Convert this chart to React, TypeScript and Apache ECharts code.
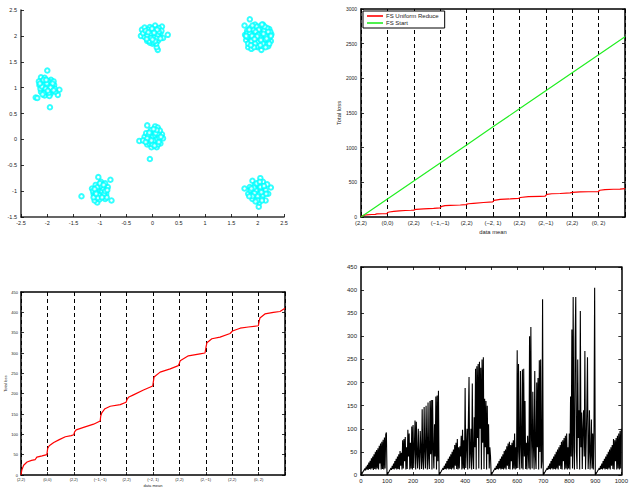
import React, { useEffect, useRef } from "react";
import * as echarts from "echarts";

// ---------- top-left scatter: six clusters ----------
const clusterA: number[][] = [[-2.0,1.33],[-2.22,0.81],[-2.19,0.8],[-1.95,0.62],[-1.77,0.96],[-1.8,0.86],[-2.12,1.2],[-2.05,1.19],[-1.93,1.15],[-2.15,1.05],[-2.1,0.95],[-2.08,1.1],[-2.03,1.02],[-1.98,0.98],[-1.95,1.08],[-1.9,1.0],[-2.0,0.9],[-2.05,0.85],[-1.92,0.92],[-1.87,1.05],[-2.12,0.92],[-2.0,1.05],[-1.97,1.12],[-2.07,0.98],[-1.85,0.92],[-2.02,0.95],[-1.94,0.88],[-2.1,1.12],[-1.88,1.12],[-2.13,0.98],[-2.04,1.08],[-1.99,1.0],[-1.86,0.98],[-1.96,0.84],[-2.16,1.12],
  [-2.05,1.0],[-1.98,1.04],[-2.02,0.92],[-1.95,0.95],[-2.08,1.05],[-2.0,1.12],[-1.92,1.02],[-2.06,0.9],[-2.1,1.02],[-1.97,0.9],[-2.01,1.08],[-1.9,1.08],[-2.14,1.08],[-2.03,0.98],[-1.94,1.0],[-2.07,1.15],[-1.99,0.94],[-1.88,0.95],[-2.09,0.87],[-2.02,1.15]];
const clusterB: number[][] = [[0.1,1.73],[0.29,2.02],[0.18,2.18],[-0.2,2.12],[-0.22,2.0],[0.08,1.78],[0.2,1.96],[-0.15,2.16],[0.05,2.2],[-0.05,2.17],[0.12,2.15],[-0.1,1.9],[0.0,1.85],[0.15,2.05],[-0.12,2.05],[-0.03,2.0],[0.04,1.95],[0.08,2.08],[-0.07,1.95],[0.02,2.1],[0.1,1.9],[-0.15,1.98],[0.05,2.02],[-0.02,1.92],[0.13,1.98],[-0.08,2.12],[0.0,2.05],[0.07,1.85],[-0.18,2.05],[0.17,2.1],[-0.05,1.87],
  [0.0,2.0],[0.03,1.97],[-0.04,2.04],[0.06,2.12],[-0.1,2.0],[0.1,2.02],[-0.06,1.9],[0.02,1.88],[0.08,1.95],[-0.13,2.1],[0.12,2.08],[-0.01,2.14],[0.05,1.9],[-0.08,2.07],[0.15,1.95],[-0.03,1.96],[0.09,2.12],[-0.11,1.94],[0.03,2.06],[0.0,1.93]];
const clusterC: number[][] = [[1.85,2.32],[1.75,2.2],[1.76,2.02],[1.82,1.78],[1.88,1.75],[2.07,1.73],[2.2,1.8],[2.26,2.03],[2.22,2.13],[2.1,2.22],[1.95,2.22],[1.8,2.1],[1.78,1.92],[2.25,1.9],[2.0,1.78],[2.15,1.85],[1.9,2.15],[2.05,2.15],[2.18,2.0],[1.85,1.88],[1.95,2.05],[2.05,1.95],[2.0,2.0],[1.92,1.92],[2.1,2.08],[2.08,1.88],[1.88,2.02],[2.12,1.98],[1.97,2.12],[2.02,1.85],[1.83,1.98],[2.15,2.12],[1.93,1.82],[2.06,2.06],[1.98,1.95],[2.2,1.92],[1.9,2.08],[2.03,2.02],[1.96,1.88],[2.12,1.9],[1.87,1.95],[2.08,2.15],[2.0,2.1],[1.94,1.98],[2.17,2.05],[1.8,2.05],[2.22,1.97],[1.99,1.8],[2.1,1.8],[1.86,2.15],[2.05,1.9],[1.96,2.03],[2.14,1.93],[1.91,1.87],[2.03,2.18],[2.18,2.15],[1.82,1.85],[2.24,2.08],[2.01,1.93],[1.93,2.1],
  [2.0,1.95],[1.95,2.0],[2.05,2.05],[1.9,1.95],[2.1,2.0],[2.0,2.05],[1.97,1.9],[2.07,1.97],[1.85,2.05],[2.15,2.0],[1.92,2.12],[2.12,2.1],[1.88,1.9],[2.1,1.85],[2.0,1.88],[1.98,2.18],[2.2,2.08],[1.8,1.98],[2.17,1.95],[1.95,1.85],[2.05,1.82],[1.84,2.12],[2.13,2.18],[1.9,2.2],[2.02,2.12],[2.22,1.85],[1.78,2.0],[2.08,2.22],[1.93,1.78],[2.15,1.78],[1.87,1.82],[2.25,2.0],[2.04,1.98],[1.96,2.08],[2.11,2.04],[1.89,2.0],[2.01,2.02],[1.99,1.99],[2.06,1.92],[1.94,1.94]];
const clusterD: number[][] = [[-0.05,-0.38],[-0.25,-0.03],[-0.1,0.27],[0.05,0.25],[0.1,0.23],[0.18,0.1],[0.2,0.02],[0.15,-0.08],[0.08,-0.15],[-0.02,-0.15],[-0.1,-0.1],[-0.15,0.05],[0.0,0.1],[0.05,0.0],[-0.05,0.05],[0.1,0.05],[-0.08,-0.02],[0.02,-0.08],[0.12,0.12],[-0.03,0.18],[0.07,-0.05],[0.0,0.0],[-0.12,0.12],[0.14,0.17],[0.04,0.15],[-0.06,-0.08],[0.1,-0.1],[-0.18,-0.02],[0.03,0.05],[-0.02,0.08],
  [0.0,0.05],[0.05,0.08],[-0.05,0.0],[0.08,0.0],[0.02,-0.03],[-0.03,-0.05],[0.1,0.1],[-0.08,0.08],[0.06,0.12],[-0.1,0.02],[0.13,0.03],[0.0,-0.1],[0.04,-0.12],[-0.06,0.13],[0.08,0.18],[0.16,0.05],[-0.13,-0.05],[0.02,0.2],[0.12,-0.05],[-0.02,-0.02]];
const clusterE: number[][] = [[-1.35,-1.1],[-0.78,-1.18],[-0.8,-0.78],[-1.03,-0.73],[-1.05,-1.22],[-1.1,-1.18],[-0.9,-1.15],[-0.85,-0.92],[-1.15,-0.95],[-1.12,-1.05],[-1.0,-0.9],[-1.05,-1.0],[-0.95,-1.05],[-1.0,-1.1],[-0.92,-0.98],[-1.08,-0.88],[-0.98,-0.82],[-1.02,-0.95],[-0.95,-0.92],[-1.1,-1.1],[-0.88,-1.05],[-1.0,-1.02],[-1.07,-1.12],[-0.93,-1.1],[-0.9,-0.85],[-1.04,-1.06],[-0.97,-0.97],[-1.13,-1.0],[-0.87,-1.12],[-1.01,-1.16],
  [-1.0,-1.0],[-0.98,-1.05],[-1.03,-0.98],[-0.96,-1.0],[-1.06,-0.95],[-0.94,-0.95],[-1.02,-1.08],[-1.08,-1.02],[-0.92,-1.05],[-0.99,-0.9],[-1.05,-0.92],[-1.1,-0.96],[-0.9,-1.0],[-1.04,-1.13],[-0.96,-1.12],[-1.12,-1.12],[-0.86,-0.98],[-1.0,-0.85],[-1.07,-1.05],[-0.93,-0.88]];
const clusterF: number[][] = [[1.75,-0.95],[2.25,-0.93],[2.02,-1.3],[1.85,-0.92],[1.9,-0.8],[2.05,-0.75],[2.1,-0.82],[2.18,-0.87],[2.2,-1.05],[2.15,-1.18],[2.03,-1.22],[1.9,-1.15],[1.82,-1.05],[2.0,-1.0],[1.95,-0.95],[2.05,-1.05],[2.1,-0.95],[1.97,-1.08],[2.08,-1.12],[1.92,-1.0],[2.0,-0.88],[2.12,-1.02],[1.88,-1.08],[2.03,-0.95],[1.98,-1.15],[2.07,-0.9],[1.95,-0.88],[2.15,-0.98],[1.86,-0.98],[2.02,-1.02],
  [2.0,-1.0],[2.03,-1.05],[1.97,-0.98],[2.06,-0.98],[1.94,-1.04],[2.0,-1.1],[2.05,-0.92],[1.93,-0.93],[2.1,-1.08],[1.9,-1.1],[2.12,-0.9],[1.98,-0.85],[2.0,-1.18],[2.08,-1.18],[1.88,-0.95],[2.16,-1.05],[1.96,-1.2],[2.04,-0.82],[1.84,-1.1],[2.07,-1.02]];

// ---------- loss curves ----------
const meanLabels = ["(2,2)", "(0,0)", "(2,2)", "(\u22121,\u22121)", "(2,2)", "(\u22122, 1)", "(2,2)", "(2,\u22121)", "(2,2)", "(0, 2)"];
const reduceX = [0,3,10,23,40,54,60,80,98,101,107,124,145,168,190,200,203,209,237,275,300,302,306,318,338,376,398,402,407,426,464,499,502,504,527,565,596,600,603,634,678,697,701,704,723,754,792,801,830,861,899,902,905,924,956,981,1000];
const reduceY = [0,12,24,32,36,38,44,47,50,65,72,80,87,94,97,99,106,111,117,125,133,145,153,163,169,173,179,186,191,197,209,219,232,241,253,261,269,275,281,293,298,300,315,325,335,339,348,354,361,364,367,378,386,396,400,402,410];
const startX = [0,100,200,300,400,500,600,700,800,900,1000];
const startY = [0,260,520,780,1040,1300,1560,1820,2080,2340,2600];

// ---------- bottom-right per-step loss (sampled every 2.5 steps) ----------
const stepSize = 2.5;
const stepLoss = [
  // 0 - 97.5
  0,2,4,7,9,11,14,10,18,12,22,11,27,13,31,12,36,14,40,11,45,13,50,12,54,14,58,12,63,25,68,12,72,13,76,12,81,14,88,92,
  // 100 - 197.5
  0,2,5,7,10,12,15,11,20,13,25,12,30,14,35,12,40,13,45,12,52,20,48,12,75,14,78,30,82,12,60,13,98,40,90,12,70,14,105,12,
  // 200 - 297.5
  108,15,60,118,12,115,45,14,100,40,12,95,55,13,142,30,12,147,50,14,150,60,12,157,35,13,160,45,162,12,162,55,14,110,40,170,12,172,30,182,
  // 300 - 397.5
  0,2,5,7,10,12,15,11,20,13,25,12,30,14,35,12,40,13,45,12,50,14,55,12,65,20,70,13,78,12,60,14,62,40,85,12,98,14,75,12,
  // 400 - 497.5
  188,15,60,100,12,120,212,14,50,100,12,198,40,13,125,60,230,12,235,80,240,14,245,100,232,12,250,70,255,13,165,60,160,12,150,45,110,14,60,40,
  // 500 - 597.5
  0,2,5,7,10,12,15,11,20,13,25,12,30,14,35,12,40,13,45,12,52,14,55,12,62,20,68,13,72,12,65,30,70,12,75,14,90,12,60,14,
  // 600 - 697.5
  270,15,240,50,12,225,60,14,228,12,230,40,160,13,70,12,85,50,14,300,12,320,80,14,180,60,12,225,40,13,200,60,210,12,248,50,250,14,30,380,
  // 700 - 797.5
  0,2,5,7,10,12,15,11,20,13,25,12,30,14,35,12,40,13,45,12,50,14,55,12,60,20,65,13,72,12,75,30,80,12,85,14,90,12,60,14,
  // 800 - 897.5
  90,12,170,40,315,14,385,60,12,290,385,50,13,250,80,140,12,355,60,135,13,100,140,40,268,12,70,140,255,13,50,140,12,40,120,14,90,12,100,405,
  // 900 - 1000
  0,2,5,7,10,12,15,11,20,13,25,12,30,14,35,12,40,13,45,12,50,14,55,12,60,20,65,13,78,12,75,30,80,12,85,14,90,12,95,14,100,
];

const FONT = "'Liberation Sans', Arial, Helvetica, sans-serif";
const TXT = "#222";

export default function App() {
  const ref = useRef<HTMLDivElement>(null);
  useEffect(() => {
    if (!ref.current) return;
    const chart = echarts.init(ref.current, undefined, { renderer: "svg" });
    const scatterData = [...clusterA, ...clusterB, ...clusterC, ...clusterD, ...clusterE, ...clusterF];
    const reduceData = reduceX.map((x, i) => [x, reduceY[i]]);
    const startData = startX.map((x, i) => [x, startY[i]]);
    const stepData = stepLoss.map((v, i) => [i * stepSize, v]);

    const plain = (v: number) => String(v);
    const boxLine = { show: true, onZero: false, lineStyle: { color: "#000", width: 1.5 } };
    const tickIn = { show: true, inside: true, length: 3, lineStyle: { color: "#000", width: 0.8 } };
    const dashed = { show: true, lineStyle: { color: "#000", width: 1, type: [4, 3] as any } };
    const meanFmt = (v: number) => {
      const i = Math.round(v / 100);
      return i < meanLabels.length ? meanLabels[i] : "";
    };
    const sideAxis = (grid: number, min: number, max: number, interval: number, position: string) => ({
      type: "value", gridIndex: grid, min, max, interval, position,
      axisLine: boxLine, axisTick: tickIn, axisLabel: { show: false }, splitLine: { show: false },
    });

    const option: any = {
      animation: false,
      textStyle: { fontFamily: FONT },
      grid: [
        { left: 21, top: 10, width: 263, height: 207 },
        { left: 361, top: 9, width: 264, height: 208 },
        { left: 21, top: 292, width: 264, height: 186 },
        { left: 361, top: 267, width: 264, height: 208 },
      ],
      legend: {
        data: ["FS Uniform Reduce", "FS Start"],
        orient: "vertical",
        left: 363, top: 11,
        icon: "rect", itemWidth: 16, itemHeight: 1.6, itemGap: 1,
        padding: [2, 6, 2, 4],
        borderColor: "#000", borderWidth: 1, backgroundColor: "#fff",
        textStyle: { fontSize: 6, color: TXT, fontFamily: FONT, padding: [0, 0, 0, -2] },
      },
      xAxis: [
        { type: "value", gridIndex: 0, min: -2.5, max: 2.5, interval: 0.5,
          axisLine: { show: true, onZero: false, lineStyle: { color: "#333", width: 1.5 } },
          axisTick: tickIn, splitLine: { show: false },
          axisLabel: { fontSize: 5.5, color: TXT, margin: 3, fontFamily: FONT, formatter: plain } },
        { type: "value", gridIndex: 1, min: 0, max: 1000, interval: 100,
          axisLine: boxLine, axisTick: tickIn, splitLine: dashed,
          axisLabel: { fontSize: 5.8, color: TXT, margin: 3, formatter: meanFmt, fontFamily: FONT },
          name: "data mean", nameLocation: "middle", nameGap: 12,
          nameTextStyle: { fontSize: 5.8, color: TXT, fontFamily: FONT } },
        sideAxis(1, 0, 1000, 100, "top"),
        { type: "value", gridIndex: 2, min: 0, max: 1000, interval: 100,
          axisLine: boxLine, axisTick: tickIn, splitLine: dashed,
          axisLabel: { fontSize: 4, color: TXT, margin: 2, formatter: meanFmt, fontFamily: FONT },
          name: "data mean", nameLocation: "middle", nameGap: 8,
          nameTextStyle: { fontSize: 4, color: TXT, fontFamily: FONT } },
        sideAxis(2, 0, 1000, 100, "top"),
        { type: "value", gridIndex: 3, min: 0, max: 1000, interval: 100,
          axisLine: boxLine, axisTick: tickIn, splitLine: { show: false },
          axisLabel: { fontSize: 6, color: TXT, margin: 3, fontFamily: FONT, formatter: plain } },
        sideAxis(3, 0, 1000, 100, "top"),
      ],
      yAxis: [
        { type: "value", gridIndex: 0, min: -1.5, max: 2.5, interval: 0.5,
          axisLine: { show: true, onZero: false, lineStyle: { color: "#333", width: 1.5 } },
          axisTick: tickIn, splitLine: { show: false },
          axisLabel: { fontSize: 5.5, color: TXT, margin: 4, fontFamily: FONT, formatter: plain } },
        { type: "value", gridIndex: 1, min: 0, max: 3000, interval: 500,
          axisLine: boxLine, axisTick: tickIn, splitLine: { show: false },
          axisLabel: { fontSize: 5, color: TXT, margin: 4, fontFamily: FONT, formatter: plain },
          name: "Total loss", nameLocation: "middle", nameGap: 19, nameRotate: 90,
          nameTextStyle: { fontSize: 5.8, color: TXT, fontFamily: FONT } },
        sideAxis(1, 0, 3000, 500, "right"),
        { type: "value", gridIndex: 2, min: 0, max: 450, interval: 50,
          axisLine: boxLine, axisTick: tickIn, splitLine: { show: false },
          axisLabel: { fontSize: 4, color: TXT, margin: 3, fontFamily: FONT, formatter: plain },
          name: "Total loss", nameLocation: "middle", nameGap: 12, nameRotate: 90,
          nameTextStyle: { fontSize: 4, color: TXT, fontFamily: FONT } },
        sideAxis(2, 0, 450, 50, "right"),
        { type: "value", gridIndex: 3, min: 0, max: 450, interval: 50,
          axisLine: boxLine, axisTick: tickIn, splitLine: { show: false },
          axisLabel: { fontSize: 6, color: TXT, margin: 4, fontFamily: FONT, formatter: plain } },
        sideAxis(3, 0, 450, 50, "right"),
      ],
      series: [
        { type: "scatter", name: "data", xAxisIndex: 0, yAxisIndex: 0, data: scatterData,
          symbol: "emptyCircle", symbolSize: 4.5,
          itemStyle: { color: "#00ffff", borderColor: "#00ffff", borderWidth: 1.1 } },
        { type: "line", name: "FS Uniform Reduce", xAxisIndex: 1, yAxisIndex: 1, data: reduceData,
          showSymbol: false, color: "#ff0000", lineStyle: { color: "#ff0000", width: 1.2 } },
        { type: "line", name: "FS Start", xAxisIndex: 1, yAxisIndex: 1, data: startData,
          showSymbol: false, color: "#22ee22", lineStyle: { color: "#22ee22", width: 1.2 } },
        { type: "line", name: "loss", xAxisIndex: 3, yAxisIndex: 3, data: reduceData,
          showSymbol: false, lineStyle: { color: "#ff0000", width: 1.2 } },
        { type: "line", name: "step loss", xAxisIndex: 5, yAxisIndex: 5, data: stepData,
          showSymbol: false, lineStyle: { color: "#000", width: 1.1 } },
      ],
    };
    chart.setOption(option);
    return () => chart.dispose();
  }, []);
  return <div ref={ref} style={{ position: "absolute", left: 0, top: 0, width: 631, height: 488, background: "#fff" }} />;
}
